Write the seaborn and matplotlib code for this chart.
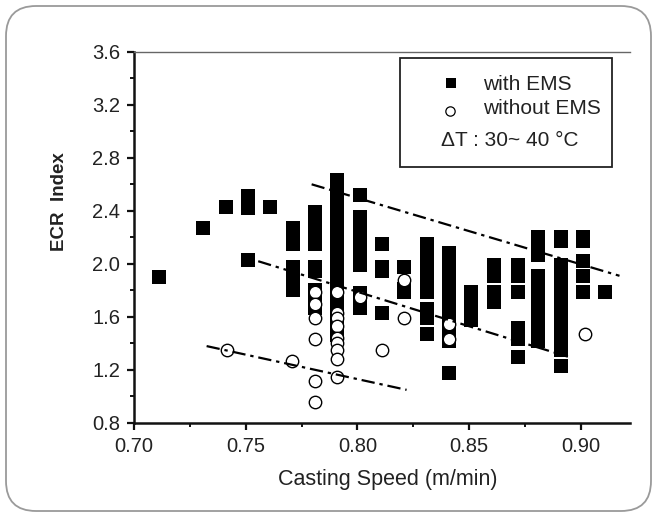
import matplotlib
matplotlib.use("Agg")
import numpy as np
import pandas as pd
import seaborn as sns
import matplotlib.pyplot as plt
from matplotlib.patches import FancyBboxPatch, Rectangle
from matplotlib.transforms import IdentityTransform
from matplotlib.ticker import MultipleLocator, FormatStrFormatter

sns.set_theme(style="white")
plt.rcParams["font.family"] = ["Liberation Sans", "DejaVu Sans"]

# ---------------- data ----------------
ems_speed = [0.711, 0.731, 0.741, 0.751, 0.761, 0.771, 0.781, 0.791, 0.801, 0.811,
             0.821, 0.831, 0.841, 0.851, 0.861, 0.872, 0.881, 0.891, 0.901, 0.911]
ems_index = [
    [1.90],
    [2.27],
    [2.43],
    [2.51, 2.46, 2.42, 2.03],
    [2.43],
    [2.27, 2.21, 2.15, 1.98, 1.92, 1.86, 1.80],
    [2.39, 2.33, 2.27, 2.21, 2.15, 1.98, 1.95, 1.80, 1.74, 1.67],
    [2.63, 2.57, 2.51, 2.45, 2.39, 2.33, 2.27, 2.21, 2.15, 2.09, 2.03, 1.97,
     1.91, 1.85, 1.79, 1.73, 1.67, 1.61, 1.55, 1.49, 1.46],
    [2.52, 2.35, 2.29, 2.23, 2.17, 2.11, 2.05, 1.99, 1.78, 1.72, 1.67],
    [2.15, 1.98, 1.95, 1.63],
    [1.98, 1.81, 1.79],
    [2.15, 2.09, 2.03, 1.97, 1.91, 1.85, 1.79, 1.66, 1.59, 1.47],
    [2.08, 2.02, 1.96, 1.90, 1.84, 1.78, 1.72, 1.66, 1.60, 1.54, 1.48, 1.42, 1.18],
    [1.79, 1.73, 1.67, 1.61, 1.58],
    [1.99, 1.91, 1.79, 1.71],
    [1.99, 1.91, 1.79, 1.52, 1.43, 1.30],
    [2.20, 2.13, 2.07, 1.91, 1.85, 1.79, 1.73, 1.67, 1.61, 1.55, 1.49, 1.42],
    [2.20, 2.17, 1.99, 1.93, 1.87, 1.81, 1.75, 1.69, 1.63, 1.57, 1.51, 1.45,
     1.39, 1.35, 1.23],
    [2.20, 2.17, 2.02, 1.91, 1.79],
    [1.79],
]

noems_speed = [0.7415, 0.7708,
               0.781, 0.781, 0.781, 0.781, 0.781, 0.781,
               0.791, 0.791, 0.791, 0.791, 0.791, 0.791, 0.791, 0.791, 0.791,
               0.801, 0.811, 0.821, 0.821, 0.841, 0.841, 0.902]
noems_index = [1.35, 1.27,
               1.79, 1.70, 1.59, 1.43, 1.12, 0.96,
               1.79, 1.63, 1.59, 1.53, 1.44, 1.40, 1.35, 1.28, 1.15,
               1.75, 1.35, 1.88, 1.59, 1.55, 1.43, 1.47]

upper_speed = [0.7795, 0.9173]
upper_index = [2.60, 1.91]
middle_speed = [0.7556, 0.8942]
middle_index = [2.02, 1.30]
lower_speed = [0.7325, 0.8220]
lower_index = [1.38, 1.05]

x_ticks = [0.70, 0.75, 0.80, 0.85, 0.90]
y_ticks = [0.8, 1.2, 1.6, 2.0, 2.4, 2.8, 3.2, 3.6]

# ---------------- figure ----------------
W, H = 658, 516
fig = plt.figure(figsize=(W / 100, H / 100), dpi=100)
fig.patch.set_facecolor("white")

# rounded outer frame
frame = FancyBboxPatch((6, 5), 645, 505,
                       boxstyle="round,pad=0,rounding_size=30",
                       transform=IdentityTransform(), fill=False,
                       ec="#9a9a9a", lw=1.3)
fig.patches.append(frame)

ax_l, ax_r, ax_t, ax_b = 134, 630, 51.7, 423
ax = fig.add_axes([ax_l / W, (H - ax_b) / H, (ax_r - ax_l) / W, (ax_b - ax_t) / H])
ax.set_facecolor("white")

ems_df = pd.DataFrame({
    "speed": [x for x, ys in zip(ems_speed, ems_index) for _ in ys],
    "ecr": [y for ys in ems_index for y in ys],
})
noems_df = pd.DataFrame({"speed": noems_speed, "ecr": noems_index})

dash = (0, (6, 2.2, 1.5, 2.2))
for xs, ys in [(upper_speed, upper_index), (middle_speed, middle_index),
               (lower_speed, lower_index)]:
    sns.lineplot(x=xs, y=ys, color="black", lw=1.6, linestyle=dash, ax=ax,
                 zorder=5, legend=False)

sns.scatterplot(data=ems_df, x="speed", y="ecr", marker="s", s=90,
                color="black", linewidth=0, ax=ax, zorder=3, legend=False)
sns.scatterplot(data=noems_df, x="speed", y="ecr", marker="o", s=80,
                color="white", edgecolor="black", linewidth=1.0, ax=ax,
                zorder=4, legend=False)

ax.set_xlim(0.70, 0.922)
ax.set_ylim(0.8, 3.6)
ax.set_xticks(x_ticks)
ax.set_yticks(y_ticks)
ax.xaxis.set_major_formatter(FormatStrFormatter("%.2f"))
ax.yaxis.set_major_formatter(FormatStrFormatter("%.1f"))
ax.xaxis.set_minor_locator(MultipleLocator(0.025))
ax.yaxis.set_minor_locator(MultipleLocator(0.2))
ax.tick_params(which="both", bottom=True, left=True, top=False, right=False,
               direction="out", colors="#111111", labelcolor="#222222")
ax.tick_params(which="major", length=5, width=1.6, labelsize=14.5, pad=5)
ax.tick_params(which="minor", length=3, width=1.4)

for side in ["left", "bottom"]:
    ax.spines[side].set_color("#111111")
    ax.spines[side].set_linewidth(1.8)
ax.spines["top"].set_color("#666666")
ax.spines["top"].set_linewidth(1.0)
ax.spines["right"].set_visible(False)

ax.set_xlabel("Casting Speed (m/min)", fontsize=15.5, color="#222222")
ax.set_ylabel("ECR  Index", fontsize=13.5, fontweight="bold", color="#222222")
ax.xaxis.set_label_coords((387.6 - ax_l) / (ax_r - ax_l), -(480 - ax_b) / (ax_b - ax_t))
ax.yaxis.set_label_coords((59 - ax_l) / (ax_r - ax_l), (ax_b - 202) / (ax_b - ax_t))
ax.xaxis.label.set_va("center")
ax.yaxis.label.set_va("center")

# ---------------- legend box ----------------
def axx(px):
    return (px - ax_l) / (ax_r - ax_l)

def axy(py):
    return (ax_b - py) / (ax_b - ax_t)

box = Rectangle((axx(400), axy(167.3)), axx(612) - axx(400), axy(58.3) - axy(167.3),
                transform=ax.transAxes, fill=True, fc="white", ec="#222222",
                lw=1.3, zorder=6)
ax.add_patch(box)
ax.scatter([axx(451)], [axy(83.3)], marker="s", s=60, color="black",
           transform=ax.transAxes, zorder=7, linewidths=0)
ax.scatter([axx(450)], [axy(111)], marker="o", s=45, color="white",
           edgecolors="black", linewidths=0.9, transform=ax.transAxes, zorder=7)
ax.text(axx(483), axy(84), "with EMS", transform=ax.transAxes, fontsize=15,
        va="center", ha="left", color="#222222", zorder=7)
ax.text(axx(483), axy(109), "without EMS", transform=ax.transAxes, fontsize=15,
        va="center", ha="left", color="#222222", zorder=7)
ax.text(axx(441), axy(140), "ΔT : 30~ 40 °C", transform=ax.transAxes,
        fontsize=15, va="center", ha="left", color="#222222", zorder=7)

fig.savefig("out.png", dpi=100, facecolor="white")
